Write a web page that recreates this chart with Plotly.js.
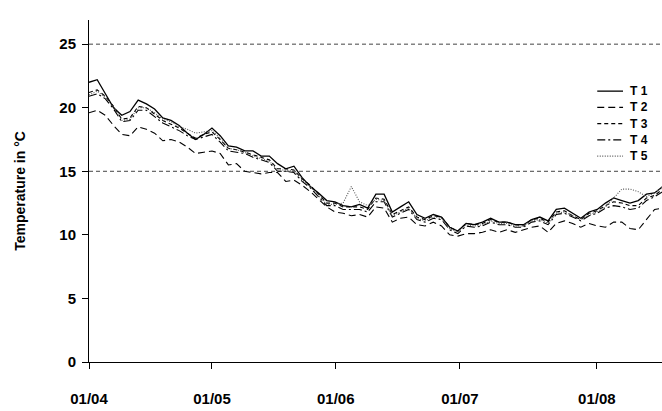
<!DOCTYPE html>
<html>
<head>
<meta charset="utf-8">
<script src="https://cdn.plot.ly/plotly-3.0.1.min.js"></script>
<style>html,body{margin:0;padding:0;background:#fff;}#chart{width:662px;height:411px;}</style>
</head>
<body>
<div id="chart"></div>
<script>
// Day index counted from 01/04 (every second day)
const days = [];
for (let d = 0; d <= 140; d += 2) days.push(d);

const T1 = [22.0, 22.2, 21.1, 20.0, 19.4, 19.7, 20.6, 20.3, 19.9, 19.2,
            19.0, 18.6, 18.0, 17.5, 17.9, 18.4, 17.8, 17.0, 16.9, 16.6,
            16.6, 16.2, 16.2, 15.6, 15.2, 15.4, 14.5, 13.8, 13.3, 12.7,
            12.6, 12.3, 12.2, 12.4, 12.1, 13.2, 13.2, 11.8, 12.2, 12.6,
            11.6, 11.3, 11.6, 11.4, 10.6, 10.3, 10.9, 10.8, 11.0, 11.3,
            11.0, 11.0, 10.8, 10.8, 11.2, 11.4, 11.1, 12.0, 12.1, 11.7,
            11.3, 11.8, 12.0, 12.5, 12.9, 12.7, 12.5, 12.7, 13.2, 13.3,
            13.8];
const T2 = [19.6, 19.8, 19.4, 18.6, 17.9, 17.8, 18.5, 18.3, 18.0, 17.4,
            17.5, 17.3, 16.9, 16.4, 16.5, 16.6, 16.4, 15.5, 15.6, 15.0,
            14.9, 14.8, 14.9, 14.9, 14.2, 14.3, 13.9, 13.4, 12.8, 12.2,
            11.8, 11.7, 11.5, 11.6, 11.4, 12.2, 12.1, 11.0, 11.3, 11.4,
            10.8, 10.7, 11.0, 10.7, 10.0, 9.9, 10.1, 10.1, 10.2, 10.4,
            10.2, 10.4, 10.2, 10.4, 10.6, 10.7, 10.2, 10.9, 11.1, 10.9,
            10.6, 10.9, 10.7, 10.6, 11.0, 11.0, 10.5, 10.4, 11.2, 12.0,
            12.1];
const T3 = [21.2, 21.4, 20.9, 20.1, 19.1, 19.2, 20.1, 20.0, 19.5, 19.0,
            18.7, 18.4, 18.0, 17.6, 17.9, 18.1, 17.5, 16.8, 16.7, 16.5,
            16.3, 16.1, 15.9, 15.2, 15.2, 15.1, 14.4, 13.9, 13.2, 12.5,
            12.5, 12.2, 12.2, 12.2, 12.0, 12.9, 12.8, 11.6, 11.9, 12.2,
            11.4, 11.2, 11.5, 11.4, 10.6, 10.3, 10.9, 10.8, 10.9, 11.2,
            11.0, 11.0, 10.8, 10.7, 11.2, 11.3, 11.0, 11.8, 11.9, 11.5,
            11.2, 11.7, 11.9, 12.3, 12.6, 12.5, 12.3, 12.3, 12.9, 13.1,
            13.6];
const T4 = [20.9, 21.1, 20.7, 19.9, 18.9, 19.0, 19.8, 19.8, 19.3, 18.8,
            18.5, 18.2, 17.8, 17.5, 17.7, 17.9, 17.3, 16.6, 16.5, 16.4,
            16.1, 15.9, 15.7, 15.0, 15.0, 14.9, 14.2, 13.7, 13.0, 12.3,
            12.3, 12.0, 12.0, 12.0, 11.8, 12.6, 12.6, 11.4, 11.7, 12.0,
            11.2, 11.0, 11.3, 11.2, 10.4, 10.1, 10.7, 10.6, 10.7, 11.0,
            10.8, 10.8, 10.6, 10.6, 11.0, 11.1, 10.8, 11.6, 11.7, 11.4,
            11.1, 11.5, 11.7, 12.1, 12.3, 12.2, 12.0, 12.1, 12.7, 13.0,
            13.4];
const T5 = [21.0, 21.3, 20.8, 20.1, 19.0, 19.1, 20.0, 20.0, 19.6, 19.1,
            18.9, 18.5, 18.3, 18.0, 18.1, 18.2, 17.6, 16.8, 16.7, 16.5,
            16.2, 16.0, 15.8, 15.1, 15.1, 15.0, 14.3, 13.8, 13.1, 12.4,
            12.4, 12.5, 13.8, 12.6, 12.3, 12.8, 12.7, 11.5, 11.8, 12.1,
            11.3, 11.1, 11.4, 11.3, 10.5, 10.2, 10.8, 10.7, 10.8, 11.1,
            10.9, 10.9, 10.7, 10.7, 11.1, 11.2, 10.9, 11.7, 11.8, 11.5,
            11.2, 11.6, 11.8, 12.2, 12.9, 13.6, 13.6, 13.4, 13.0, 13.3,
            13.8];

const seriesNames = ['T 1', 'T 2', 'T 3', 'T 4', 'T 5'];
const tickDays = [0, 30, 60.2, 90.5, 123.9];
const tickLabels = ['01/04', '01/05', '01/06', '01/07', '01/08'];
const yTicks = [0, 5, 10, 15, 20, 25];
const refLines = [15, 25];

const seriesData = [T1, T2, T3, T4, T5];
const styles = [
  {color: '#000', width: 1.3, dash: 'solid'},
  {color: '#000', width: 1.1, dash: '7px,4px'},
  {color: '#000', width: 1.1, dash: '4px,3px'},
  {color: '#000', width: 1.1, dash: '8px,3px,2px,3px'},
  {color: '#555', width: 1.1, dash: '1px,1.5px'}
];

const FONT = 'Liberation Sans, Arial, sans-serif';

const traces = seriesData.map((vals, i) => ({
  x: days, y: vals, type: 'scatter', mode: 'lines',
  name: seriesNames[i], showlegend: false,
  line: styles[i]
}));

// Legend drawn in paper coordinates (layout only)
const legX0 = 0.887, legX1 = 0.932, legTextX = 0.941;
const legTop = 0.792, legStep = 0.0475;
const legendShapes = seriesNames.map((n, i) => ({
  type: 'line', xref: 'paper', yref: 'paper',
  x0: legX0, x1: legX1, y0: legTop - i * legStep, y1: legTop - i * legStep,
  line: styles[i]
}));
const legendAnn = seriesNames.map((n, i) => ({
  xref: 'paper', yref: 'paper', x: legTextX, y: legTop - i * legStep,
  xanchor: 'left', yanchor: 'middle', showarrow: false, text: n,
  font: {family: FONT, size: 12, weight: 'bold', color: '#000'}
}));

const layout = {
  width: 662, height: 411,
  margin: {l: 89, r: 0, t: 20, b: 49},
  paper_bgcolor: '#fff', plot_bgcolor: '#fff',
  font: {family: FONT, color: '#000'},
  showlegend: false,
  xaxis: {
    range: [0, 139.8], showgrid: false, zeroline: false,
    showline: true, linecolor: '#000', linewidth: 1,
    ticks: 'outside', ticklen: 6, tickcolor: '#000',
    tickvals: tickDays, ticktext: tickLabels,
    ticklabelstandoff: 17,
    tickfont: {family: FONT, size: 15, weight: 'bold', color: '#000'}
  },
  yaxis: {
    range: [0, 26.9], showgrid: false, zeroline: false,
    showline: true, linecolor: '#000', linewidth: 1,
    ticks: 'outside', ticklen: 6, tickcolor: '#000',
    tickvals: yTicks, ticktext: yTicks.map(String),
    ticklabelstandoff: 3,
    tickfont: {family: FONT, size: 15, weight: 'bold', color: '#000'},
    title: {text: 'Temperature in °C', standoff: 30,
            font: {family: FONT, size: 14, weight: 'bold', color: '#000'}}
  },
  shapes: refLines.map(v => ({
    type: 'line', xref: 'paper', x0: 0, x1: 1, yref: 'y', y0: v, y1: v,
    layer: 'below', line: {color: '#444', width: 1, dash: '4px,3px'}
  })).concat(legendShapes),
  annotations: legendAnn
};

Plotly.newPlot('chart', traces, layout, {displayModeBar: false, staticPlot: true});
</script>
</body>
</html>
